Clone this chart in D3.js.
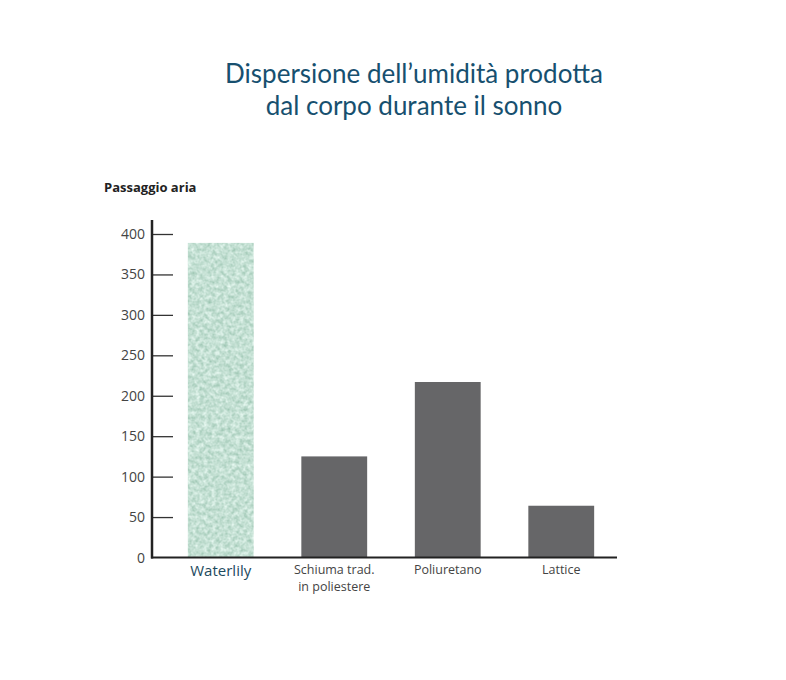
<!DOCTYPE html>
<html>
<head>
<meta charset="utf-8">
<script src="https://cdn.jsdelivr.net/npm/d3@7"></script>
<style>
  body { margin: 0; background: #fff; }
  svg { display: block; }
</style>
</head>
<body>
<div id="chart"></div>
<script>
// data
const categories = ["Waterlily", "Schiuma trad.\nin poliestere", "Poliuretano", "Lattice"];
const values = [389, 125, 217, 64];
const yTicks = [0, 50, 100, 150, 200, 250, 300, 350, 400];
const titleLines = ["Dispersione dell\u2019umidit\u00e0 prodotta", "dal corpo durante il sonno"];
const yLabel = "Passaggio aria";

const W = 786, H = 680;
const axisX = 152, baseY = 557.5;

const svg = d3.select("#chart").append("svg")
  .attr("width", W)
  .attr("height", H);

// mottled texture for the Waterlily bar
const defs = svg.append("defs");
const filt = defs.append("filter")
  .attr("id", "mottle")
  .attr("color-interpolation-filters", "sRGB")
  .attr("x", 0).attr("y", 0).attr("width", 1).attr("height", 1);
filt.append("feTurbulence")
  .attr("type", "fractalNoise")
  .attr("baseFrequency", 0.25)
  .attr("numOctaves", 3)
  .attr("seed", 7)
  .attr("result", "noise");
// map noise to a mint tone with soft light and dark specks
filt.append("feColorMatrix")
  .attr("in", "noise")
  .attr("type", "matrix")
  .attr("values", "0.38 0 0 0 0.58  0.26 0 0 0 0.75  0.32 0 0 0 0.67  0 0 0 0 1")
  .attr("result", "tone");
filt.append("feComposite")
  .attr("in", "tone")
  .attr("in2", "SourceGraphic")
  .attr("operator", "in");

const yScale = d3.scaleLinear().domain([0, 400]).range([baseY, 234]);
const xScale = d3.scaleBand()
  .domain(categories)
  .range([164, 618])
  .paddingInner(0.42)
  .paddingOuter(0.21);

// title
svg.append("g").selectAll("text")
  .data(titleLines)
  .join("text")
  .attr("x", 414)
  .attr("y", (d, i) => 83 + i * 32)
  .attr("text-anchor", "middle")
  .style("font-family", "Lato, 'Open Sans', sans-serif")
  .style("font-size", "26px")
  .style("font-weight", 400)
  .style("fill", "#17506f")
  .text(d => d);

// y label
svg.append("text")
  .attr("x", 104)
  .attr("y", 192)
  .style("font-family", "'Open Sans', sans-serif")
  .style("font-size", "13px")
  .style("font-weight", 700)
  .style("fill", "#222")
  .text(yLabel);

// bars
svg.append("g").selectAll("rect")
  .data(values)
  .join("rect")
  .attr("x", (d, i) => xScale(categories[i]))
  .attr("y", d => yScale(d))
  .attr("width", xScale.bandwidth())
  .attr("height", d => baseY - yScale(d))
  .attr("fill", (d, i) => i === 0 ? "#c3e2d4" : "#666668")
  .attr("filter", (d, i) => i === 0 ? "url(#mottle)" : null);

// y axis
const yAxis = svg.append("g")
  .attr("transform", "translate(" + axisX + ",0)")
  .call(d3.axisRight(yScale).tickValues(yTicks).tickSize(21).tickPadding(0).tickFormat(""));
yAxis.select(".domain").remove();
yAxis.selectAll(".tick line")
  .attr("stroke", "#333")
  .attr("stroke-width", 1.3);
yAxis.selectAll(".tick").filter(d => d === 0).remove();

svg.append("g").selectAll("text")
  .data(yTicks)
  .join("text")
  .attr("x", 145)
  .attr("y", d => yScale(d) + 5)
  .attr("text-anchor", "end")
  .style("font-family", "'Open Sans', sans-serif")
  .style("font-size", "14px")
  .style("fill", "#444")
  .text(d => d);

svg.append("line")
  .attr("x1", axisX).attr("x2", axisX)
  .attr("y1", 220).attr("y2", baseY + 1)
  .attr("stroke", "#222")
  .attr("stroke-width", 2.5);

// x axis
svg.append("line")
  .attr("x1", axisX - 1).attr("x2", 617)
  .attr("y1", baseY).attr("y2", baseY)
  .attr("stroke", "#222")
  .attr("stroke-width", 2);

// category labels
const labG = svg.append("g");
categories.forEach((c, i) => {
  const t = labG.append("text")
    .attr("x", xScale(c) + xScale.bandwidth() / 2)
    .attr("y", i === 0 ? 576 : 574)
    .attr("text-anchor", "middle")
    .style("font-family", "'Open Sans', sans-serif")
    .style("font-size", i === 0 ? "15px" : "12.5px")
    .style("fill", i === 0 ? "#1d4a5e" : "#444");
  c.split("\n").forEach((line, j) => {
    t.append("tspan")
      .attr("x", xScale(c) + xScale.bandwidth() / 2)
      .attr("dy", j === 0 ? 0 : 17)
      .text(line);
  });
});
</script>
</body>
</html>
